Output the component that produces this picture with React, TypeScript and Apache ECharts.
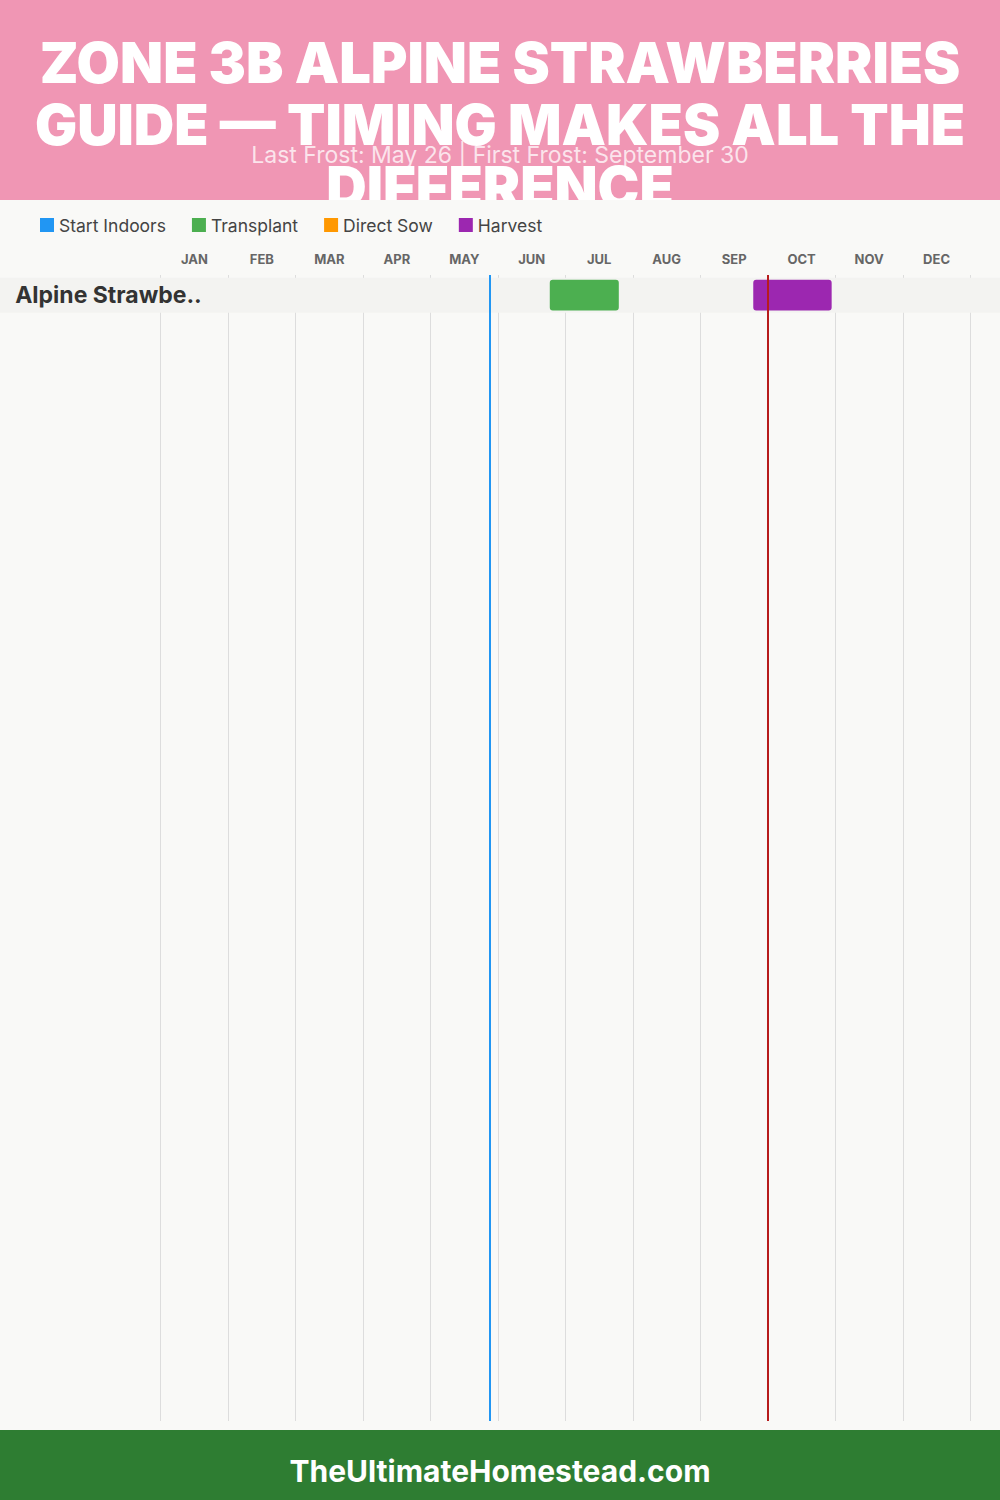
import React, { useEffect, useRef } from "react";
import * as echarts from "echarts";

const titleLines = ["ZONE 3B ALPINE STRAWBERRIES", "GUIDE — TIMING MAKES ALL THE", "DIFFERENCE"];
const subtitle = "Last Frost: May 26 | First Frost: September 30";
const footer = "TheUltimateHomestead.com";
const months = ["JAN", "FEB", "MAR", "APR", "MAY", "JUN", "JUL", "AUG", "SEP", "OCT", "NOV", "DEC"];
const crops = ["Alpine Strawberries"];
const phases = ["Start Indoors", "Transplant", "Direct Sow", "Harvest"];
const phaseColors = ["#2196F3", "#4CAF50", "#FF9800", "#9C27B0"];
// [start (month units), end (month units), crop index]
const startIndoors: number[][] = [];
const transplant: number[][] = [[5.767, 6.79, 0]];
const directSow: number[][] = [];
const harvest: number[][] = [[8.783, 9.945, 0]];
const phaseData = [startIndoors, transplant, directSow, harvest];
const lastFrost = 4.867; // May 26
const firstFrost = 9.0; // Sep 30

const BG = "#F9F9F7";

export default function App() {
  const ref = useRef<HTMLDivElement>(null);
  useEffect(() => {
    document.body.style.margin = "0";
    const chart = echarts.init(ref.current!, null, { renderer: "svg" });
    const barSeries = phases.map((name, pi) => ({
      name,
      type: "custom",
      xAxisIndex: 2,
      yAxisIndex: 1,
      z: 3,
      itemStyle: { color: phaseColors[pi] },
      encode: { x: [0, 1], y: 2 },
      data: phaseData[pi],
      renderItem: (params: any, api: any) => {
        const s = api.coord([api.value(0), api.value(2)]);
        const e = api.coord([api.value(1), api.value(2)]);
        const h = api.size([0, 1])[1] * 0.88;
        return {
          type: "rect",
          shape: { x: s[0], y: s[1] - h / 2, width: e[0] - s[0], height: h, r: 3 },
          style: { fill: phaseColors[pi] },
        };
      },
    }));
    const option: any = {
      animation: false,
      backgroundColor: BG,
      textStyle: { fontFamily: "Inter" },
      legend: {
        left: 35,
        top: 211,
        itemWidth: 14,
        itemHeight: 14,
        itemGap: 26,
        icon: "rect",
        data: phases,
        textStyle: { fontSize: 17.5, color: "#444", fontFamily: "Inter" },
      },
      grid: [
        { left: 160.7, right: 29.7, top: 275, bottom: 79 },
        { left: 160.7, right: 29.7, top: 277.7, height: 35 },
      ],
      xAxis: [
        {
          gridIndex: 0,
          type: "value",
          min: 0,
          max: 12,
          interval: 1,
          axisLabel: { show: false },
          axisLine: { show: false },
          axisTick: { show: false },
          splitLine: { show: true, lineStyle: { color: "#DDDDDD", width: 1 } },
        },
        {
          gridIndex: 0,
          type: "category",
          position: "top",
          data: months,
          boundaryGap: true,
          axisLine: { show: false },
          axisTick: { show: false },
          splitLine: { show: false },
          axisLabel: { margin: 10, fontSize: 13, fontWeight: "bold", color: "#666", fontFamily: "Inter" },
        },
        {
          gridIndex: 1,
          type: "value",
          min: 0,
          max: 12,
          show: false,
        },
      ],
      yAxis: [
        { gridIndex: 0, type: "value", min: 0, max: 1, show: false },
        {
          gridIndex: 1,
          type: "category",
          data: crops,
          inverse: true,
          z: 5,
          axisLine: { show: false },
          axisTick: { show: false },
          splitLine: { show: false },
          axisLabel: {
            align: "left",
            margin: 145.5,
            fontSize: 23,
            fontWeight: "bold",
            color: "#333",
            fontFamily: "Inter",
            formatter: (v: string) => (v.length > 16 ? v.slice(0, 14) + ".." : v),
          },
        },
      ],
      series: [
        {
          name: "rowBand",
          type: "custom",
          xAxisIndex: 2,
          yAxisIndex: 1,
          z: 1,
          silent: true,
          encode: { x: 0, y: 1 },
          data: crops.map((_, i) => [0, i]),
          renderItem: (params: any, api: any) => {
            const c = api.coord([0, api.value(1)]);
            const h = api.size([0, 1])[1];
            return {
              type: "rect",
              shape: { x: 0, y: c[1] - h / 2, width: api.getWidth(), height: h },
              style: { fill: "#F3F3F1" },
            };
          },
        },
        ...barSeries,
        {
          name: "frost",
          type: "line",
          xAxisIndex: 0,
          yAxisIndex: 0,
          z: 10,
          data: [],
          markLine: {
            silent: true,
            symbol: "none",
            label: { show: false },
            z: 10,
            data: [
              { xAxis: lastFrost, lineStyle: { color: "#2196F3", width: 2, type: "solid" } },
              { xAxis: firstFrost, lineStyle: { color: "#B71C1C", width: 2, type: "solid" } },
            ],
          },
        },
      ],
      graphic: [
        { type: "rect", z: 0, shape: { x: 0, y: 0, width: 1000, height: 200 }, style: { fill: "#F096B4" } },
        ...titleLines.map((t, i) => ({
          type: "text",
          z: 1,
          x: 500,
          y: 63 + i * 62,
          style: {
            text: t,
            fill: "#FFFFFF",
            font: "900 56px Inter",
            textAlign: "center",
            textVerticalAlign: "middle",
          },
        })),
        {
          type: "text",
          z: 2,
          x: 500,
          y: 155,
          style: {
            text: subtitle,
            fill: "rgba(255,255,255,0.75)",
            font: "400 23px Inter",
            textAlign: "center",
            textVerticalAlign: "middle",
          },
        },
        { type: "rect", z: 3, shape: { x: 0, y: 200, width: 1000, height: 11 }, style: { fill: BG } },
        { type: "rect", z: 3, shape: { x: 0, y: 1430, width: 1000, height: 70 }, style: { fill: "#2E7D32" } },
        {
          type: "text",
          z: 4,
          x: 500,
          y: 1471,
          style: {
            text: footer,
            fill: "#FFFFFF",
            font: "bold 30px Inter",
            textAlign: "center",
            textVerticalAlign: "middle",
          },
        },
      ],
    };
    chart.setOption(option);
    return () => chart.dispose();
  }, []);
  return <div ref={ref} style={{ width: 1000, height: 1500 }} />;
}
